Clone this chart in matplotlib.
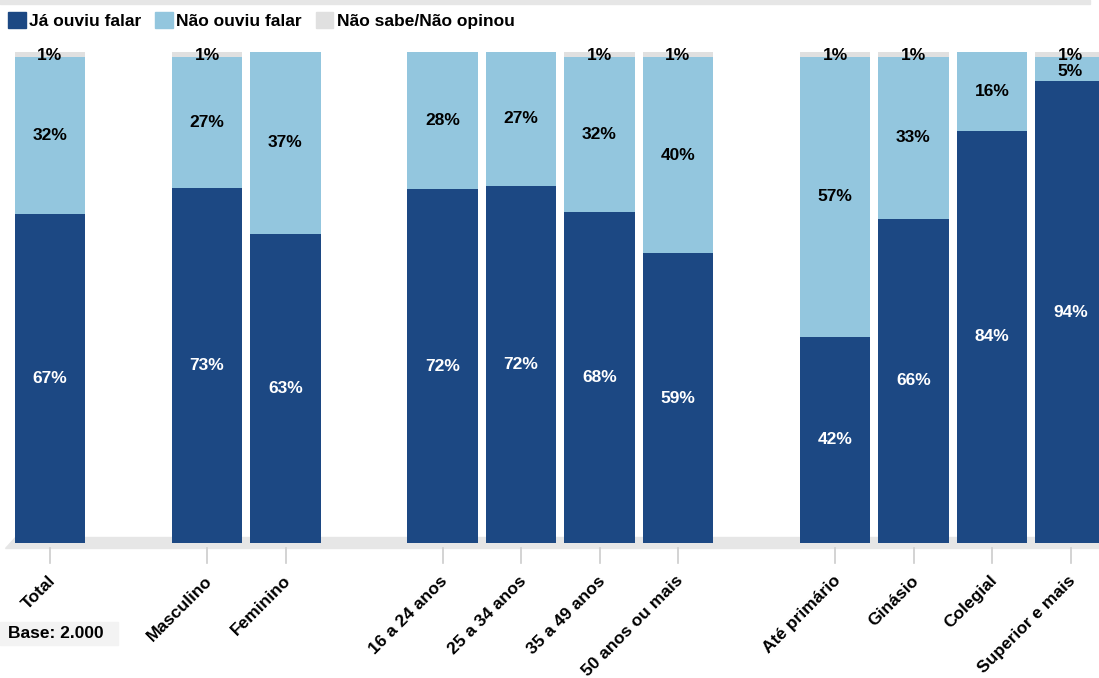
import matplotlib.pyplot as plt
from matplotlib.patches import Rectangle, Polygon, Patch
import numpy as np

plt.rcParams['font.family'] = ['Liberation Sans', 'DejaVu Sans']

categories = ["Total", "Masculino", "Feminino", "16 a 24 anos", "25 a 34 anos",
              "35 a 49 anos", "50 anos ou mais", "Até primário", "Ginásio",
              "Colegial", "Superior e mais"]
slots = [0, 2, 3, 5, 6, 7, 8, 10, 11, 12, 13]
ja_ouviu = [67, 73, 63, 72, 72, 68, 59, 42, 66, 84, 94]
nao_ouviu = [32, 27, 37, 28, 27, 32, 40, 57, 33, 16, 5]
nao_sabe = [1, 1, 0, 0, 0, 1, 1, 1, 1, 0, 1]
series_names = ["Já ouviu falar", "Não ouviu falar", "Não sabe/Não opinou"]

dark = "#1c4883"
light = "#93c6de"
grey = "#e0e0e0"

fig = plt.figure(figsize=(10.99, 6.78), dpi=100)
ax = fig.add_axes([0, (678 - 543) / 678, 1, (543 - 52) / 678])

a = np.array(ja_ouviu, float)
b = np.array(nao_ouviu, float)
c = np.array(nao_sabe, float)
tot = a + b + c
a_n, b_n, c_n = a / tot * 100, b / tot * 100, c / tot * 100
x = np.array(slots, float)
w = 0.9

ax.bar(x, a_n, w, color=dark, zorder=3)
ax.bar(x, b_n, w, bottom=a_n, color=light, zorder=3)
ax.bar(x, c_n, w, bottom=a_n + b_n, color=grey, zorder=3)

fs = 12.5
for i in range(len(x)):
    ax.text(x[i], a_n[i] / 2, f"{ja_ouviu[i]}%", ha="center", va="center",
            color="white", fontsize=fs, fontweight="bold", zorder=5)
    shift = -0.5 if b_n[i] < 8 else 0
    ax.text(x[i], a_n[i] + b_n[i] / 2 + shift, f"{nao_ouviu[i]}%", ha="center",
            va="center", color="black", fontsize=fs, fontweight="bold", zorder=5)
    if nao_sabe[i] > 0:
        ax.text(x[i], a_n[i] + b_n[i] + c_n[i] / 2 - 0.3, f"{nao_sabe[i]}%", ha="center",
                va="center", color="black", fontsize=fs, fontweight="bold", zorder=5)

ax.set_xlim((0 - 50) / 78.5, (1099 - 50) / 78.5)
ax.set_ylim(0, 100)
ax.axis("off")

# floor band (behind the bars)
floor = Polygon([(15 / 1099, (678 - 537) / 678), (1099 / 1099, (678 - 537) / 678),
                 (1099 / 1099, (678 - 548) / 678), (5 / 1099, (678 - 548) / 678)],
                closed=True, transform=fig.transFigure, color="#e6e6e6", zorder=-1)
fig.patches.append(floor)

# ticks and labels
tr = ax.get_xaxis_transform()
for xi, lab in zip(x, categories):
    ax.plot([xi, xi], [-5 / 491, -20 / 491], color="#cccccc", lw=1.2,
            transform=tr, clip_on=False)
    ax.text(xi - 0.03, -30 / 491, lab, rotation=45, rotation_mode="anchor",
            ha="right", va="top", fontsize=fs, fontweight="bold", transform=tr)

# top strip
fig.patches.append(Rectangle((0, 1 - 4 / 678), 1090 / 1099, 4 / 678,
                             transform=fig.transFigure, color="#e6e6e6"))

# legend
handles = [Patch(color=dark), Patch(color=light), Patch(color=grey)]
fig.legend(handles, series_names, loc="upper left",
           bbox_to_anchor=(5 / 1099, 1 - 9 / 678),
           ncol=3, frameon=False, handlelength=1.0, handleheight=1.0,
           handletextpad=0.2, columnspacing=0.8, borderaxespad=0, borderpad=0.2,
           prop={"size": fs, "weight": "bold"})

# base note
fig.patches.append(Rectangle((0, (678 - 645) / 678), 118 / 1099, 23 / 678,
                             transform=fig.transFigure, color="#f3f3f3", zorder=-1))
fig.text(8 / 1099, (678 - 634) / 678, "Base: 2.000", ha="left", va="center",
         fontsize=fs, fontweight="bold")

fig.savefig("out.png", dpi=100)
